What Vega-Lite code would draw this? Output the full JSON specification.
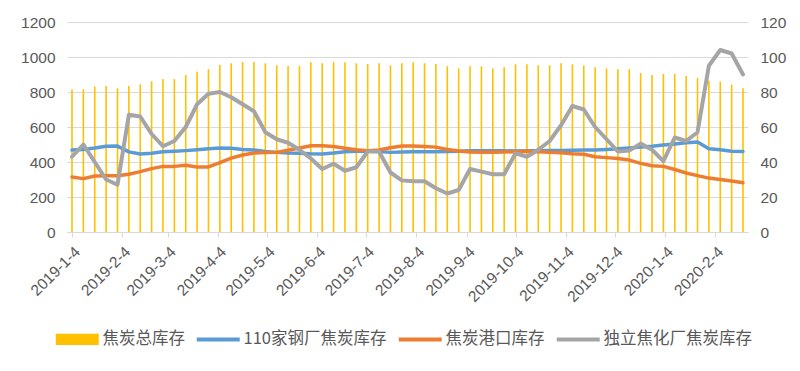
{
  "$schema": "https://vega.github.io/schema/vega-lite/v6.json",
  "autosize": {"type": "none"},
  "width": 681,
  "height": 210,
  "padding": {"left": 67, "top": 22, "right": 52, "bottom": 139},
  "background": "white",
  "config": {
    "view": {"stroke": null},
    "font": "Liberation Sans"
  },
  "data": {"values": [
    {"date": "2019-01-04", "total": 815, "steel": 468, "port": 314, "indep": 43},
    {"date": "2019-01-11", "total": 815, "steel": 472, "port": 305, "indep": 50},
    {"date": "2019-01-18", "total": 832, "steel": 480, "port": 320, "indep": 40},
    {"date": "2019-01-25", "total": 834, "steel": 490, "port": 321, "indep": 30},
    {"date": "2019-02-01", "total": 821, "steel": 491, "port": 321, "indep": 27},
    {"date": "2019-02-08", "total": 834, "steel": 458, "port": 330, "indep": 67},
    {"date": "2019-02-15", "total": 844, "steel": 446, "port": 345, "indep": 66},
    {"date": "2019-02-22", "total": 861, "steel": 450, "port": 362, "indep": 56},
    {"date": "2019-03-01", "total": 874, "steel": 458, "port": 375, "indep": 49},
    {"date": "2019-03-08", "total": 874, "steel": 461, "port": 375, "indep": 52},
    {"date": "2019-03-15", "total": 897, "steel": 465, "port": 381, "indep": 60},
    {"date": "2019-03-22", "total": 916, "steel": 470, "port": 372, "indep": 73},
    {"date": "2019-03-29", "total": 931, "steel": 476, "port": 372, "indep": 79},
    {"date": "2019-04-05", "total": 954, "steel": 480, "port": 396, "indep": 80},
    {"date": "2019-04-12", "total": 964, "steel": 478, "port": 422, "indep": 77},
    {"date": "2019-04-19", "total": 971, "steel": 472, "port": 440, "indep": 73},
    {"date": "2019-04-26", "total": 971, "steel": 468, "port": 451, "indep": 69},
    {"date": "2019-05-03", "total": 964, "steel": 460, "port": 454, "indep": 57},
    {"date": "2019-05-10", "total": 952, "steel": 455, "port": 455, "indep": 53},
    {"date": "2019-05-17", "total": 949, "steel": 451, "port": 467, "indep": 51},
    {"date": "2019-05-24", "total": 950, "steel": 450, "port": 480, "indep": 47},
    {"date": "2019-05-31", "total": 970, "steel": 447, "port": 493, "indep": 42},
    {"date": "2019-06-07", "total": 964, "steel": 446, "port": 493, "indep": 36},
    {"date": "2019-06-14", "total": 970, "steel": 451, "port": 488, "indep": 39},
    {"date": "2019-06-21", "total": 970, "steel": 458, "port": 478, "indep": 35},
    {"date": "2019-06-28", "total": 964, "steel": 462, "port": 470, "indep": 37},
    {"date": "2019-07-05", "total": 960, "steel": 463, "port": 465, "indep": 46},
    {"date": "2019-07-12", "total": 964, "steel": 460, "port": 469, "indep": 46},
    {"date": "2019-07-19", "total": 952, "steel": 455, "port": 481, "indep": 34},
    {"date": "2019-07-26", "total": 964, "steel": 457, "port": 491, "indep": 29.5},
    {"date": "2019-08-02", "total": 970, "steel": 458, "port": 491, "indep": 29},
    {"date": "2019-08-09", "total": 964, "steel": 459, "port": 488, "indep": 29},
    {"date": "2019-08-16", "total": 960, "steel": 459, "port": 485, "indep": 25},
    {"date": "2019-08-23", "total": 947, "steel": 460, "port": 471, "indep": 22},
    {"date": "2019-08-30", "total": 935, "steel": 462, "port": 463, "indep": 24},
    {"date": "2019-09-06", "total": 947, "steel": 464, "port": 457, "indep": 36},
    {"date": "2019-09-13", "total": 947, "steel": 465, "port": 456, "indep": 34.5},
    {"date": "2019-09-20", "total": 935, "steel": 465, "port": 456, "indep": 33},
    {"date": "2019-09-27", "total": 941, "steel": 464, "port": 457, "indep": 33},
    {"date": "2019-10-04", "total": 958, "steel": 463, "port": 459, "indep": 45},
    {"date": "2019-10-11", "total": 958, "steel": 464, "port": 462, "indep": 43},
    {"date": "2019-10-18", "total": 952, "steel": 465, "port": 458, "indep": 47},
    {"date": "2019-10-25", "total": 952, "steel": 466, "port": 455, "indep": 52},
    {"date": "2019-11-01", "total": 964, "steel": 466, "port": 453, "indep": 61},
    {"date": "2019-11-08", "total": 958, "steel": 467, "port": 447, "indep": 72},
    {"date": "2019-11-15", "total": 952, "steel": 468, "port": 444, "indep": 70},
    {"date": "2019-11-22", "total": 941, "steel": 468, "port": 430, "indep": 60},
    {"date": "2019-11-29", "total": 935, "steel": 472, "port": 425, "indep": 53},
    {"date": "2019-12-06", "total": 930, "steel": 476, "port": 420, "indep": 46},
    {"date": "2019-12-13", "total": 930, "steel": 480, "port": 411, "indep": 46.5},
    {"date": "2019-12-20", "total": 909, "steel": 485, "port": 392, "indep": 50.5},
    {"date": "2019-12-27", "total": 897, "steel": 490, "port": 379, "indep": 47},
    {"date": "2020-01-03", "total": 903, "steel": 497, "port": 375, "indep": 40.5},
    {"date": "2020-01-10", "total": 903, "steel": 503, "port": 357, "indep": 54},
    {"date": "2020-01-17", "total": 891, "steel": 510, "port": 337, "indep": 52},
    {"date": "2020-01-24", "total": 880, "steel": 514, "port": 322, "indep": 57},
    {"date": "2020-01-31", "total": 865, "steel": 476, "port": 308, "indep": 95},
    {"date": "2020-02-07", "total": 859, "steel": 470, "port": 300, "indep": 104},
    {"date": "2020-02-14", "total": 842, "steel": 461, "port": 292, "indep": 102},
    {"date": "2020-02-21", "total": 821, "steel": 460, "port": 281, "indep": 90}
  ]},
  "encoding": {
    "x": {
      "field": "date", "type": "temporal",
      "scale": {"type": "utc", "domain": [{"year": 2019, "month": 1, "date": 4, "utc": true}, {"year": 2020, "month": 2, "date": 21, "utc": true}], "nice": false},
      "axis": {
        "title": null,
        "format": "%Y-%-m-%-d",
        "values": [
          {"year": 2019, "month": 1, "date": 4, "utc": true},
          {"year": 2019, "month": 2, "date": 4, "utc": true},
          {"year": 2019, "month": 3, "date": 4, "utc": true},
          {"year": 2019, "month": 4, "date": 4, "utc": true},
          {"year": 2019, "month": 5, "date": 4, "utc": true},
          {"year": 2019, "month": 6, "date": 4, "utc": true},
          {"year": 2019, "month": 7, "date": 4, "utc": true},
          {"year": 2019, "month": 8, "date": 4, "utc": true},
          {"year": 2019, "month": 9, "date": 4, "utc": true},
          {"year": 2019, "month": 10, "date": 4, "utc": true},
          {"year": 2019, "month": 11, "date": 4, "utc": true},
          {"year": 2019, "month": 12, "date": 4, "utc": true},
          {"year": 2020, "month": 1, "date": 4, "utc": true},
          {"year": 2020, "month": 2, "date": 4, "utc": true}
        ],
        "labelAngle": -45,
        "labelPadding": 7,
        "labelFontSize": 15.5,
        "labelColor": "#595959",
        "tickSize": 5,
        "tickColor": "#d9d9d9",
        "domainColor": "#d9d9d9",
        "grid": false,
        "labelOverlap": false,
        "labelFlush": false
      }
    }
  },
  "layer": [
    {
      "encoding": {
        "y": {
          "type": "quantitative",
          "scale": {"domain": [0, 1200], "nice": false},
          "axis": {"title": null, "format": "d", "values": [0, 200, 400, 600, 800, 1000, 1200], "labelOverlap": false, "labelFontSize": 15.5, "labelColor": "#595959", "grid": true, "gridColor": "#d9d9d9", "domain": false, "ticks": false, "labelPadding": 12}
        }
      },
      "layer": [
        {
          "mark": {"type": "bar", "width": 1.6},
          "encoding": {
            "y": {"field": "total"},
            "color": {
              "datum": "焦炭总库存",
              "scale": {
                "domain": ["焦炭总库存", "110家钢厂焦炭库存", "焦炭港口库存", "独立焦化厂焦炭库存"],
                "range": ["#FFC000", "#5B9BD5", "#ED7D31", "#A5A5A5"]
              },
              "legend": {
                "orient": "none", "legendX": 2, "legendY": 309,
                "direction": "horizontal", "title": null,
                "symbolSize": 1849, "symbolStrokeWidth": 4,
                "labelFontSize": 16.5, "labelFont": "Noto Sans CJK SC", "labelColor": "#595959",
                "labelOffset": 17, "columnPadding": 3,
                "encode": {"symbols": {"update": {
                  "shape": {"signal": "datum.value === '焦炭总库存' ? 'M-1,-0.26H1V0.26H-1Z' : 'M-1,0H1'"},
                  "size": {"value": 1849},
                  "fill": {"signal": "datum.value === '焦炭总库存' ? '#FFC000' : 'transparent'"},
                  "stroke": {"scale": "color", "field": "value"},
                  "strokeWidth": {"signal": "datum.value === '焦炭总库存' ? 0 : 4"},
                  "opacity": {"value": 1}
                }}}
              }
            }
          }
        },
        {
          "mark": {"type": "line", "strokeWidth": 3.5, "strokeJoin": "round", "strokeCap": "round"},
          "encoding": {
            "y": {"field": "steel"},
            "color": {"datum": "110家钢厂焦炭库存"}
          }
        },
        {
          "mark": {"type": "line", "strokeWidth": 3.5, "strokeJoin": "round", "strokeCap": "round"},
          "encoding": {
            "y": {"field": "port"},
            "color": {"datum": "焦炭港口库存"}
          }
        }
      ]
    },
    {
      "mark": {"type": "line", "strokeWidth": 4, "strokeJoin": "round", "strokeCap": "round"},
      "encoding": {
        "y": {
          "field": "indep", "type": "quantitative",
          "scale": {"domain": [0, 120], "nice": false},
          "axis": {"title": null, "orient": "right", "values": [0, 20, 40, 60, 80, 100, 120], "labelOverlap": false, "labelFontSize": 15.5, "labelColor": "#595959", "grid": false, "domain": false, "ticks": false, "labelPadding": 12}
        },
        "color": {"datum": "独立焦化厂焦炭库存"}
      }
    }
  ],
  "resolve": {"scale": {"y": "independent"}}
}
